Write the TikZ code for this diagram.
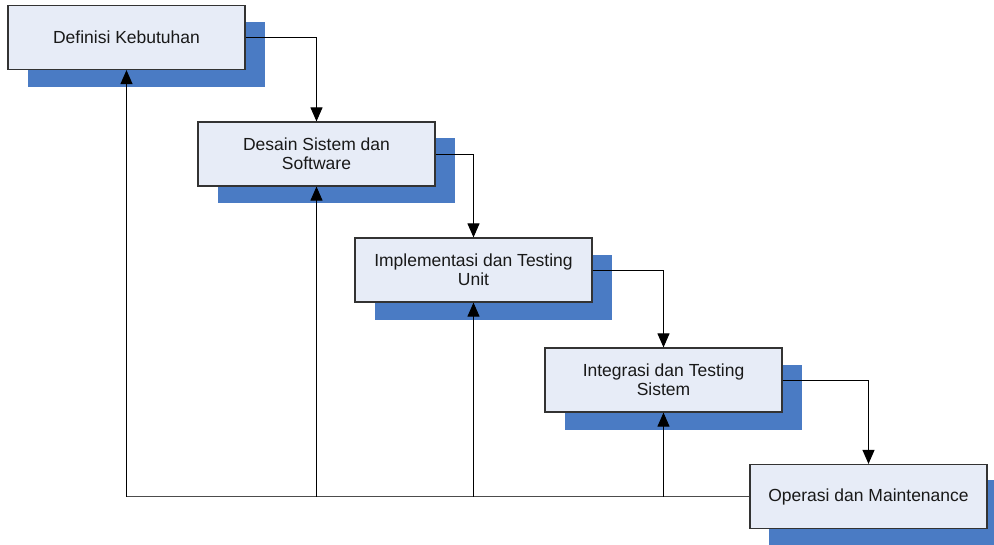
\documentclass[tikz,border=0pt]{standalone}
\usepackage{fontspec}
\setmainfont{Liberation Sans}
\usetikzlibrary{arrows.meta}
\definecolor{boxfill}{RGB}{231,236,247}
\definecolor{shadowblue}{RGB}{74,123,196}
\tikzset{
  stagebox/.style={draw=black!80, line width=1.2pt, fill=boxfill, minimum width=237pt, minimum height=64pt, inner sep=0pt, align=center, font=\fontsize{17.5}{19}\selectfont, text=black!90},
  shadowbox/.style={fill=shadowblue, minimum width=237pt, minimum height=65pt, inner sep=0pt},
  conn/.style={draw=black, line width=1pt},
  arr/.style={conn, -{Triangle[length=14pt,width=12pt]}}
}
\begin{document}
\begin{tikzpicture}[x=1pt,y=-1pt]
\useasboundingbox (0,0) rectangle (994,544);
\clip (0,0) rectangle (994,544);
% shadows
\node[shadowbox] (s1) at (146.5,54.5) {};
\node[shadowbox] (s2) at (336.5,170.5) {};
\node[shadowbox] (s3) at (493.5,287.5) {};
\node[shadowbox] (s4) at (683.5,397) {};
\node[shadowbox] (s5) at (887.5,512) {};
% front boxes
\node[stagebox] (b1) at (126.5,37.5) {Definisi Kebutuhan};
\node[stagebox] (b2) at (316.5,154) {Desain Sistem dan\\Software};
\node[stagebox] (b3) at (473.5,270) {Implementasi dan Testing\\Unit};
\node[stagebox] (b4) at (663.5,380) {Integrasi dan Testing\\Sistem};
\node[stagebox] (b5) at (868.5,496.5) {Operasi dan Maintenance};
% forward connectors
\draw[arr] (b1.east) -| (b2.north);
\draw[arr] (b2.east) -| (b3.north);
\draw[arr] (b3.east) -| (b4.north);
\draw[arr] (b4.east) -| (b5.north);
% feedback
\coordinate (f1) at (b1.south |- b5.west);
\coordinate (f2) at (b2.south |- b5.west);
\coordinate (f3) at (b3.south |- b5.west);
\coordinate (f4) at (b4.south |- b5.west);
\draw[conn, draw=black!70, line width=1.3pt] (b5.west) -- (f1);
\draw[arr] (f1) -- (b1.south);
\draw[arr] (f2) -- (b2.south);
\draw[arr] (f3) -- (b3.south);
\draw[arr] (f4) -- (b4.south);
\end{tikzpicture}
\end{document}
